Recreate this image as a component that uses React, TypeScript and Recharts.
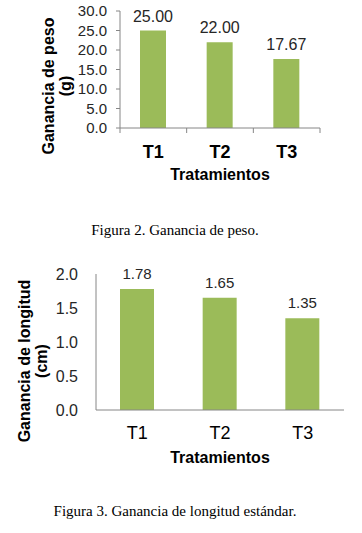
import { Bar, BarChart, XAxis, YAxis, LabelList } from "recharts"

const tratamientos = ["T1", "T2", "T3"]
const gananciaPeso = [25.0, 22.0, 17.67]
const gananciaLongitud = [1.78, 1.65, 1.35]
const pesoTicks = [0, 5, 10, 15, 20, 25, 30]
const longitudTicks = [0, 0.5, 1.0, 1.5, 2.0]

const pesoData = tratamientos.map((t, i) => ({ name: t, value: gananciaPeso[i] }))
const longitudData = tratamientos.map((t, i) => ({ name: t, value: gananciaLongitud[i] }))

const SANS = "'Liberation Sans', Arial, sans-serif"
const SERIF = "'Liberation Serif', 'Times New Roman', serif"
const GREEN = "#9bbb59"
const AXIS = "#868686"
const TEXT = "#262626"

const PLOT1_W = 200
const BAND1 = PLOT1_W / tratamientos.length

function PesoTick(props: any) {
  const { x, y, payload, index } = props
  const last = index === tratamientos.length - 1
  return (
    <g>
      <line x1={x - BAND1 / 2} x2={x - BAND1 / 2} y1={y} y2={y + 5} stroke={AXIS} />
      {last && <line x1={x + BAND1 / 2} x2={x + BAND1 / 2} y1={y} y2={y + 5} stroke={AXIS} />}
      <text x={x} y={y + 24} textAnchor="middle" dominantBaseline="central" fontWeight="bold" fontSize={18} fill="#000" fontFamily={SANS}>
        {payload.value}
      </text>
    </g>
  )
}

function PesoChart() {
  return (
    <BarChart width={362} height={190} data={pesoData} margin={{ top: 11, right: 42, left: 0, bottom: 0 }}>
      <XAxis
        dataKey="name"
        height={62}
        stroke={AXIS}
        tickLine={false}
        tickSize={0}
        tickMargin={0}
        tick={<PesoTick />}
        label={{
          content: () => (
            <text x={220} y={174} textAnchor="middle" dominantBaseline="central" fontWeight="bold" fontSize={16} fill="#000" fontFamily={SANS}>
              Tratamientos
            </text>
          ),
        }}
      />
      <YAxis
        width={120}
        domain={[0, 30]}
        ticks={pesoTicks}
        interval={0}
        stroke={AXIS}
        tickSize={4}
        tickMargin={9}
        tickFormatter={(v: number) => v.toFixed(1)}
        tick={{ fill: TEXT, fontSize: 15, fontFamily: SANS }}
        label={{
          content: () => (
            <text transform="rotate(-90)" textAnchor="middle" fontWeight="bold" fontSize={16} fill="#000" fontFamily={SANS}>
              <tspan x={-86} y={54}>Ganancia de peso</tspan>
              <tspan x={-86} y={71}>(g)</tspan>
            </text>
          ),
        }}
      />
      <Bar dataKey="value" fill={GREEN} barSize={26} isAnimationActive={false}>
        <LabelList
          dataKey="value"
          position="top"
          offset={9}
          formatter={(v: any) => Number(v).toFixed(2)}
          style={{ fill: TEXT, fontSize: 16, fontFamily: SANS }}
        />
      </Bar>
    </BarChart>
  )
}

function LongitudChart() {
  return (
    <BarChart width={362} height={240} data={longitudData} margin={{ top: 34, right: 18, left: 0, bottom: 0 }}>
      <XAxis
        dataKey="name"
        height={70}
        stroke={AXIS}
        tickLine={false}
        tickSize={0}
        tickMargin={0}
        tick={(p: any) => (
          <text x={p.x} y={p.y + 23} textAnchor="middle" dominantBaseline="central" fontSize={18} fill="#000" fontFamily={SANS}>
            {p.payload.value}
          </text>
        )}
        label={{
          content: () => (
            <text x={220} y={217} textAnchor="middle" dominantBaseline="central" fontWeight="bold" fontSize={16} fill="#000" fontFamily={SANS}>
              Tratamientos
            </text>
          ),
        }}
      />
      <YAxis
        width={96}
        domain={[0, 2]}
        ticks={longitudTicks}
        interval={0}
        stroke={AXIS}
        tickLine={false}
        tickSize={0}
        tickMargin={18}
        tickFormatter={(v: number) => v.toFixed(1)}
        tick={{ fill: TEXT, fontSize: 16, fontFamily: SANS }}
        label={{
          content: () => (
            <text transform="rotate(-90)" textAnchor="middle" fontWeight="bold" fontSize={16} fill="#000" fontFamily={SANS}>
              <tspan x={-121} y={30}>Ganancia de longitud</tspan>
              <tspan x={-121} y={47}>(cm)</tspan>
            </text>
          ),
        }}
      />
      <Bar dataKey="value" fill={GREEN} barSize={34} isAnimationActive={false}>
        <LabelList
          dataKey="value"
          position="top"
          offset={10}
          formatter={(v: any) => Number(v).toFixed(2)}
          style={{ fill: TEXT, fontSize: 15, fontFamily: SANS }}
        />
      </Bar>
    </BarChart>
  )
}

export default function App() {
  return (
    <div style={{ position: "absolute", left: 0, top: 0, width: 362, height: 533, background: "#fff" }}>
      <div style={{ position: "absolute", left: 0, top: 0 }}>
        <PesoChart />
      </div>
      <div style={{ position: "absolute", left: 0, width: 350, top: 222, textAlign: "center", fontFamily: SERIF, fontSize: 15, color: "#000" }}>
        Figura 2. Ganancia de peso.
      </div>
      <div style={{ position: "absolute", left: 0, top: 240 }}>
        <LongitudChart />
      </div>
      <div style={{ position: "absolute", left: 0, width: 350, top: 503, textAlign: "center", fontFamily: SERIF, fontSize: 15, color: "#000" }}>
        Figura 3. Ganancia de longitud estándar.
      </div>
    </div>
  )
}
